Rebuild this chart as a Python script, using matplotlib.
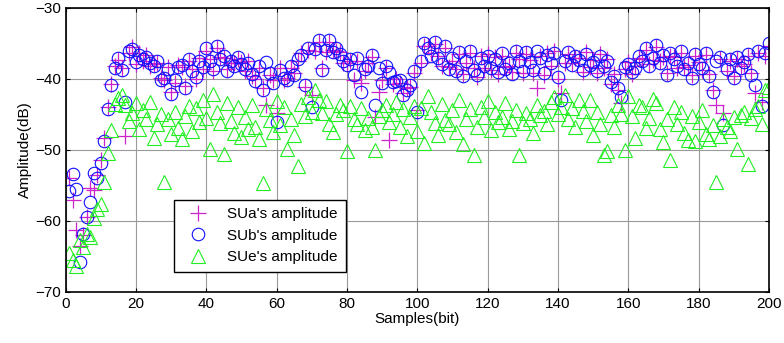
import numpy as np
import matplotlib.pyplot as plt

plt.rcParams['font.family'] = ['Liberation Sans', 'DejaVu Sans']

samples = np.arange(1, 201)

# SUb's amplitude (blue circles), dB
sub_amp = [
    -55.8, -53.4, -55.5, -65.8, -61.8, -59.5, -57.3, -53.2, -54.0, -51.8,
    -48.7, -44.2, -40.9, -38.5, -37.0, -38.7, -43.2, -36.1, -35.8, -37.6,
    -36.6, -37.2, -36.9, -37.8, -38.2, -37.5, -40.1, -39.8, -38.6, -42.1,
    -40.2, -38.3, -38.0, -41.3, -37.2, -38.9, -39.7, -37.4, -38.3, -35.7,
    -37.5, -38.6, -35.4, -37.2, -36.8, -38.9, -37.5, -38.1, -36.9, -37.9,
    -38.6, -37.7, -39.3, -40.3, -38.2, -41.6, -37.6, -39.1, -40.5, -46.0,
    -38.7, -39.8, -40.1, -38.1, -39.5, -37.2, -36.6, -40.8, -35.6, -44.0,
    -35.8, -34.5, -38.7, -35.9, -34.5, -36.2, -35.7, -36.5, -37.4, -38.0,
    -37.2, -39.4, -37.1, -41.8, -38.6, -38.1, -36.6, -43.7, -38.4, -40.5,
    -38.1, -39.0, -40.4, -40.3, -40.2, -42.3, -41.6, -40.8, -38.9, -44.6,
    -37.4, -35.0, -35.6, -36.7, -34.8, -37.1, -37.9, -35.4, -38.6, -37.1,
    -38.9, -36.2, -39.6, -37.5, -36.0, -38.8, -39.4, -37.0, -38.1, -36.8,
    -38.5, -37.2, -39.0, -36.4, -38.6, -37.8, -39.3, -36.1, -37.5, -38.9,
    -36.2, -37.6, -38.8, -36.0, -37.1, -39.2, -36.6, -37.8, -36.3, -39.7,
    -43.0, -37.4, -36.2, -38.0, -36.7, -37.3, -38.7, -36.5, -38.0, -37.6,
    -38.9, -36.8, -38.2, -37.5, -40.4, -39.6, -41.2, -42.5, -38.3, -37.9,
    -39.0, -38.4, -36.7, -37.5, -35.6, -38.2, -37.0, -35.2, -37.8, -36.6,
    -39.4, -36.4, -37.2, -38.1, -36.1, -38.6, -37.7, -39.8, -36.5, -37.9,
    -38.4, -36.3, -39.6, -41.8, -37.4, -36.9, -46.5, -38.6, -37.2, -39.9,
    -36.9, -38.4, -37.6, -36.5, -39.5, -40.8, -36.0, -43.8, -36.4, -35.0,
]

# SUa's amplitude (magenta pluses), dB
sua_amp = [
    -54.0, -57.0, -61.3, -63.5, -62.0, -59.4, -55.4, -55.6, -53.5, -51.4,
    -48.3, -44.0, -40.7, -38.2, -37.3, -38.4, -48.0, -36.4, -35.5, -37.9,
    -36.3, -37.5, -36.6, -38.1, -37.9, -37.8, -39.8, -40.1, -38.3, -41.8,
    -40.5, -38.0, -38.3, -41.0, -37.5, -38.6, -40.0, -37.1, -38.6, -36.0,
    -37.2, -38.9, -35.7, -36.9, -37.1, -38.6, -37.8, -37.8, -37.2, -37.6,
    -38.9, -37.4, -39.6, -40.0, -38.5, -41.3, -43.7, -39.4, -40.2, -44.8,
    -38.4, -40.1, -39.8, -38.4, -39.2, -37.5, -36.3, -41.1, -35.9, -42.2,
    -36.1, -34.8, -38.4, -36.2, -34.8, -35.9, -36.0, -36.2, -37.7, -37.7,
    -37.5, -40.1, -37.4, -40.6, -38.9, -37.8, -36.9, -45.3, -41.8, -40.2,
    -38.4, -48.6, -40.7, -40.0, -40.5, -42.0, -41.3, -41.1, -39.2, -44.3,
    -37.7, -35.3, -35.3, -36.4, -35.1, -36.8, -38.2, -35.7, -38.3, -37.4,
    -38.6, -36.5, -39.3, -37.8, -36.3, -38.5, -39.7, -36.7, -38.4, -36.5,
    -38.8, -36.9, -39.3, -36.7, -38.3, -38.1, -39.0, -36.4, -37.2, -39.2,
    -36.5, -37.3, -39.1, -41.3, -36.8, -39.5, -36.3, -38.1, -36.0, -40.0,
    -42.0, -37.7, -36.5, -37.7, -37.0, -37.0, -39.0, -36.2, -38.3, -37.3,
    -39.2, -36.5, -38.5, -37.2, -40.7, -39.3, -41.5, -43.4, -38.6, -37.6,
    -39.3, -38.1, -37.0, -37.2, -35.9, -37.9, -37.3, -35.5, -37.5, -36.9,
    -39.1, -36.7, -36.9, -38.4, -36.4, -38.3, -38.0, -39.5, -36.8, -37.6,
    -38.7, -36.6, -39.3, -41.5, -43.6, -37.2, -44.8, -38.9, -37.5, -39.6,
    -37.2, -38.1, -37.9, -36.8, -39.2, -42.0, -36.3, -43.2, -36.7, -35.3,
]

# SUe's amplitude (green triangles), dB
sue_amp = [
    -64.5, -65.5, -66.3, -62.7, -63.6, -61.8, -62.3, -59.6, -58.3, -57.6,
    -54.5, -50.4, -47.2, -43.5, -42.7, -42.3, -43.6, -45.9, -44.8, -43.4,
    -47.0, -44.3, -45.6, -43.2, -48.3, -46.4, -44.9, -54.5, -45.7, -47.8,
    -44.6, -46.9, -48.5, -45.2, -43.8, -47.3, -44.1, -46.0, -42.9, -45.5,
    -49.8, -42.1, -44.7, -46.2, -50.6, -43.4, -45.9, -47.6, -44.0, -48.2,
    -45.3, -47.1, -43.6, -46.7, -48.4, -54.7, -44.2, -45.8, -47.4, -43.1,
    -46.5, -44.0, -49.8, -45.6, -47.9, -52.2, -43.5, -45.2, -42.6, -44.7,
    -41.6, -42.9, -44.8, -43.1, -46.3, -47.5, -45.0, -43.7, -44.4, -50.1,
    -43.8, -45.7, -46.4, -44.1, -47.2, -45.5, -46.8, -50.0, -45.2, -44.4,
    -43.6, -46.1, -45.0, -43.2, -46.7, -44.2, -48.0, -45.4, -43.8, -47.3,
    -44.1, -49.0, -42.4, -44.6, -46.2, -47.9, -43.5, -45.8, -46.4, -44.3,
    -47.5, -43.0, -49.1, -45.6, -44.2, -50.7, -46.8, -44.0, -45.3, -43.1,
    -47.2, -44.6, -46.0, -45.3, -43.4, -47.1, -45.9, -44.3, -50.7, -46.2,
    -44.8, -45.7, -47.6, -43.6, -45.1, -44.5, -46.3, -43.2, -42.6, -45.0,
    -43.9, -42.2, -45.6, -44.1, -46.7, -43.0, -44.5, -45.9, -42.9, -47.9,
    -44.7, -46.3, -50.7, -50.2, -45.1, -46.8, -43.7, -44.9, -50.0, -42.4,
    -45.2, -48.3, -43.6, -44.0, -46.9, -45.5, -42.8, -43.4, -47.0, -48.9,
    -45.6, -51.4, -43.9, -46.4, -44.7, -47.6, -48.6, -45.2, -48.8, -46.0,
    -44.3, -47.8, -48.4, -46.5, -54.5, -48.0, -45.7, -46.8, -47.3, -45.4,
    -49.9, -45.1, -44.6, -52.0, -45.5, -44.2, -43.8, -46.3, -41.5, -41.1,
]

x_ticks = list(range(0, 201, 20))
y_ticks = list(range(-70, -29, 10))

fig = plt.figure(figsize=(7.84, 3.43), dpi=100)
ax = fig.add_axes([0.0837, 0.1487, 0.897, 0.828])

ax.plot(samples, sua_amp, linestyle='none', marker='+', markersize=12,
        markeredgewidth=0.9, color='#cc22cc', label="SUa's amplitude")
ax.plot(samples, sub_amp, linestyle='none', marker='o', markersize=9,
        markeredgewidth=0.8, markerfacecolor='none', color='#1010ff',
        label="SUb's amplitude")
ax.plot(samples, sue_amp, linestyle='none', marker='^', markersize=10,
        markeredgewidth=0.8, markerfacecolor='none', color='#22ee22',
        label="SUe's amplitude")

ax.set_xlim(0, 200)
ax.set_ylim(-70, -30)
ax.set_xticks(x_ticks)
ax.set_yticks(y_ticks)
ax.tick_params(direction='in', top=True, right=True, labelsize=11, length=3)
ax.grid(True, color='#9a9a9a', linewidth=0.8)
ax.set_axisbelow(True)
for sp in ax.spines.values():
    sp.set_linewidth(1.2)

ax.set_xlabel('Samples(bit)', fontsize=11, labelpad=1)
ax.set_ylabel('Amplitude(dB)', fontsize=11, labelpad=2)

leg = ax.legend(loc='lower left', bbox_to_anchor=(0.154, 0.07), borderaxespad=0,
                fancybox=False, framealpha=1, edgecolor='black', fontsize=11,
                handlelength=2.2, borderpad=0.5, labelspacing=0.5)
leg.get_frame().set_linewidth(1.0)

fig.savefig('out.png', dpi=100)
